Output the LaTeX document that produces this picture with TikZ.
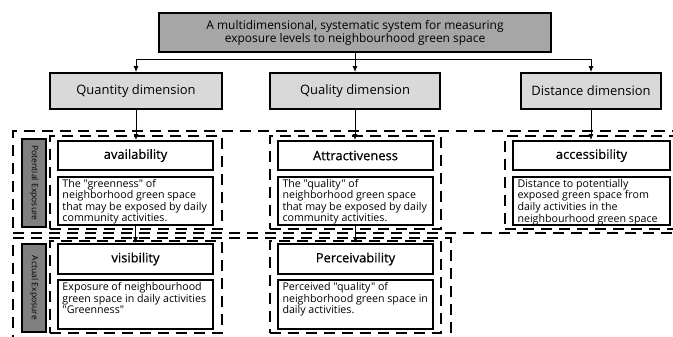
\documentclass[tikz,border=0pt]{standalone}
\usepackage{fontspec}
\setmainfont{Open Sans}[Ligatures=TeXOff]
\usetikzlibrary{arrows.meta}
\begin{document}
\begin{tikzpicture}[x=1bp,y=-1bp,
  box/.style={draw=black,line width=1.8bp,rectangle,inner sep=0pt,align=center},
  titlebox/.style={box,line width=2.4bp,fill=gray!70,font=\fontsize{12}{11.7}\selectfont},
  dimbox/.style={box,fill=gray!30,font=\fontsize{13}{14}\selectfont},
  headbox/.style={box,fill=white,font=\fontsize{13}{14}\selectfont\addfontfeature{FakeBold=0.5}},
  descbox/.style={box,fill=white,font=\fontsize{10.7}{10}\selectfont},
  sidebox/.style={box,fill=black!50},
  sidetext/.style={rotate=-90,inner sep=0pt,font=\fontsize{8.6}{9}\selectfont},
  groupbox/.style={draw=black,line width=1.1bp,dash pattern=on 11bp off 7bp,rectangle,inner sep=0pt},
  link/.style={draw=black,line width=1bp},
  arr/.style={link,-{Latex[length=6bp,width=5bp]}}]
\useasboundingbox (0,0) rectangle (673,336);
\clip (0,0) rectangle (673,336);
\fill[white] (0,0) rectangle (673,336);

% outer dashed bands
\node[groupbox,minimum width=680bp,minimum height=102bp] (potential) at (353,182) {};
\node[groupbox,minimum width=438bp,minimum height=107bp] (actual) at (232,291.5) {};

% inner dashed groups
\node[groupbox,minimum width=172bp,minimum height=93bp] (gavail) at (136,182.5) {};
\node[groupbox,minimum width=171bp,minimum height=93bp] (gattr) at (355.5,182.5) {};
\node[groupbox,minimum width=185bp,minimum height=93bp] (gaccess) at (597.5,182.5) {};
\node[groupbox,minimum width=172bp,minimum height=92bp] (gvis) at (136,287) {};
\node[groupbox,minimum width=171bp,minimum height=92bp] (gperc) at (355.5,287) {};

% side labels
\node[sidebox,minimum width=24bp,minimum height=88bp] (lpot) at (34,183) {};
\node[sidetext] (lpottext) at (lpot.center) {Potential Exposure};
\node[sidebox,minimum width=24bp,minimum height=88bp] (lact) at (34,288) {};
\node[sidetext] (lacttext) at (lact.center) {Actual Exposure};

% title and dimensions
\node[titlebox,minimum width=392bp,minimum height=39bp] (title) at (355,32.5)
  {A multidimensional, systematic system for measuring\\exposure levels to neighbourhood green space};
\node[dimbox,minimum width=172bp,minimum height=36bp] (quantity) at (136,91) {Quantity dimension};
\node[dimbox,minimum width=170bp,minimum height=36bp] (quality) at (355,91) {Quality dimension};
\node[dimbox,minimum width=140bp,minimum height=36bp] (distance) at (591,91) {Distance dimension};

% indicator boxes
\node[headbox,minimum width=155bp,minimum height=29bp] (avail) at (135.5,155.5) {availability};
\node[headbox,minimum width=155bp,minimum height=29bp] (attr) at (355.5,155.5) {Attractiveness};
\node[headbox,minimum width=157bp,minimum height=29bp] (access) at (591.5,155.5) {accessibility};
\node[headbox,minimum width=155bp,minimum height=30bp] (vis) at (135.5,259) {visibility};
\node[headbox,minimum width=155bp,minimum height=30bp] (perc) at (355.5,259) {Perceivability};

% descriptions
\node[descbox,minimum width=155bp,minimum height=48bp] (availd) at (135.5,201)
  {\parbox[c][44bp][t]{146bp}{\raggedright The "greenness" of\\neighborhood green space\\that may be exposed by daily\\community activities.}};
\node[descbox,minimum width=155bp,minimum height=48bp] (attrd) at (355.5,201)
  {\parbox[c][44bp][t]{146bp}{\raggedright The "quality" of\\neighborhood green space\\that may be exposed by daily\\community activities.}};
\node[descbox,minimum width=157bp,minimum height=48bp] (accessd) at (591.5,201)
  {\parbox[c][44bp][t]{148bp}{\raggedright Distance to potentially\\exposed green space from\\daily activities in the\\neighbourhood green space}};
\node[descbox,minimum width=155bp,minimum height=49bp] (visd) at (135.5,304.5)
  {\parbox[c][44bp][t]{146bp}{\raggedright Exposure of neighbourhood\\green space in daily activities\\"Greenness"}};
\node[descbox,minimum width=155bp,minimum height=49bp] (percd) at (355.5,304.5)
  {\parbox[c][44bp][t]{146bp}{\raggedright Perceived "quality" of\\neighborhood green space in\\daily activities.}};

% connectors
\coordinate (junction) at (355,59);
\draw[link] (title.south) -- (junction);
\draw[link] (quantity.north |- junction) -- (distance.north |- junction);
\draw[arr] (junction) -- (quality.north);
\draw[arr] (quantity.north |- junction) -- (quantity.north);
\draw[arr] (distance.north |- junction) -- (distance.north);
\draw[arr] (quantity.south) -- (quantity.south |- avail.north);
\draw[arr] (quality.south) -- (quality.south |- attr.north);
\draw[arr] (distance.south) -- (distance.south |- access.north);
\draw[arr] (availd.south) -- (vis.north);
\draw[arr] (attrd.south) -- (perc.north);
\end{tikzpicture}
\end{document}
